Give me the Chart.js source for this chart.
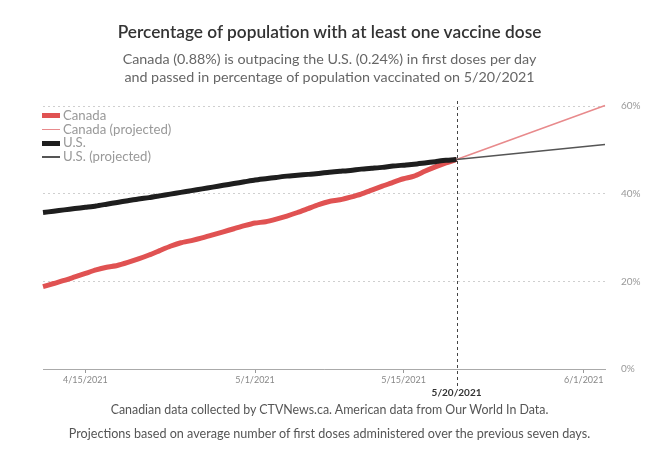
<!DOCTYPE html>
<html>
<head>
<meta charset="utf-8">
<script src="https://cdn.jsdelivr.net/npm/chart.js@4.4.0/dist/chart.umd.min.js"></script>
<style>
  html, body { margin: 0; padding: 0; background: #fff; }
  #wrap { position: relative; width: 659px; height: 450px; font-family: Lato, "Open Sans", sans-serif; }
  #wrap canvas { position: absolute; left: 0; top: 0; }
  .txt { position: absolute; left: 0; width: 659px; text-align: center; white-space: nowrap; }
  #title { top: 21px; font-size: 17.3px; font-weight: 600; color: #333; }
  #sub { top: 50px; font-size: 14.3px; line-height: 18px; color: #666; }
  #foot1 { top: 402px; font-size: 12.4px; color: #555; }
  #foot2 { top: 426px; font-size: 12.6px; color: #555; }
  #legend { position: absolute; left: 42px; top: 109px; font-size: 13.2px; color: #999; }
  #legend div { height: 13.7px; line-height: 13.7px; display: flex; align-items: center; }
  #legend span.sw { display: inline-block; width: 18px; margin-right: 3px; }
</style>
</head>
<body>
<div id="wrap">
  <canvas id="chart" width="659" height="450"></canvas>
  <div class="txt" id="title">Percentage of population with at least one vaccine dose</div>
  <div class="txt" id="sub">Canada (0.88%) is outpacing the U.S. (0.24%) in first doses per day<br>and passed in percentage of population vaccinated on 5/20/2021</div>
  <div class="txt" id="foot1">Canadian data collected by CTVNews.ca. American data from Our World In Data.</div>
  <div class="txt" id="foot2">Projections based on average number of first doses administered over the previous seven days.</div>
  <div id="legend"></div>
</div>
<script>
// daily data, 4/11/2021 - 5/20/2021 (% with at least one dose)
const dates = [
  "4/11", "4/12", "4/13", "4/14", "4/15", "4/16", "4/17", "4/18", "4/19", "4/20",
  "4/21", "4/22", "4/23", "4/24", "4/25", "4/26", "4/27", "4/28", "4/29", "4/30",
  "5/1", "5/2", "5/3", "5/4", "5/5", "5/6", "5/7", "5/8", "5/9", "5/10",
  "5/11", "5/12", "5/13", "5/14", "5/15", "5/16", "5/17", "5/18", "5/19", "5/20"
];
const canada = [
  18.8, 19.5, 20.2, 21.0, 21.8, 22.6, 23.2, 23.6, 24.3, 25.1,
  26.0, 27.0, 28.0, 28.8, 29.3, 29.9, 30.6, 31.3, 32.0, 32.7,
  33.3, 33.6, 34.2, 34.9, 35.7, 36.6, 37.5, 38.2, 38.6, 39.2,
  39.9, 40.8, 41.7, 42.6, 43.4, 44.0, 45.1, 46.1, 47.0, 47.8
];
const us = [
  35.7, 36.0, 36.3, 36.6, 36.9, 37.2, 37.6, 38.0, 38.4, 38.8,
  39.1, 39.5, 39.9, 40.3, 40.7, 41.1, 41.5, 41.9, 42.3, 42.7,
  43.1, 43.4, 43.7, 44.0, 44.2, 44.4, 44.6, 44.9, 45.1, 45.3,
  45.6, 45.8, 46.0, 46.3, 46.5, 46.7, 47.0, 47.3, 47.6, 47.8
];
// projections
const projDates = ["5/20", "6/3"];
const canadaProj = [47.8, 60.1];
const usProj = [47.8, 51.2];

const tickDates = ["4/15", "5/1", "5/15", "5/20", "6/1"];
const crossDate = "5/20";
const yTicks = [0, 20, 40, 60];

const RED = "#e05252", RED_LIGHT = "#e88a8c", BLACK = "#1e1e1e", GREY = "#555";

function dayOf(md) {
  const [m, d] = md.split("/").map(Number);
  return (Date.UTC(2021, m - 1, d) - Date.UTC(2021, 3, 11)) / 864e5;
}
const pts = (ds, vals) => ds.map((d, i) => ({ x: dayOf(d), y: vals[i] }));
const crossDay = dayOf(crossDate);

// legend (html)
const legendItems = [
  { label: "Canada", color: RED, h: 5 },
  { label: "Canada (projected)", color: RED_LIGHT, h: 1.5 },
  { label: "U.S.", color: BLACK, h: 5 },
  { label: "U.S. (projected)", color: GREY, h: 1.5 },
];
document.getElementById("legend").innerHTML = legendItems.map(it =>
  `<div><span class="sw" style="height:${it.h}px;background:${it.color}"></span>${it.label}</div>`
).join("");

const crossLine = {
  id: "crossLine",
  afterDatasetsDraw(chart) {
    const x = Math.round(chart.scales.x.getPixelForValue(crossDay)) + 0.5;
    const ctx = chart.ctx;
    ctx.save();
    ctx.strokeStyle = "#444";
    ctx.lineWidth = 1;
    ctx.setLineDash([3, 3]);
    ctx.beginPath();
    ctx.moveTo(x, 101);
    ctx.lineTo(x, 387);
    ctx.stroke();
    ctx.restore();
  }
};

new Chart(document.getElementById("chart"), {
  type: "line",
  data: {
    datasets: [
      { label: "U.S.", data: pts(dates, us), borderColor: BLACK, borderWidth: 5, order: 0 },
      { label: "Canada", data: pts(dates, canada), borderColor: RED, borderWidth: 5, order: 1 },
      { label: "U.S. (projected)", data: pts(projDates, usProj), borderColor: GREY, borderWidth: 1.5, order: 2 },
      { label: "Canada (projected)", data: pts(projDates, canadaProj), borderColor: RED_LIGHT, borderWidth: 1.5, order: 3 },
    ]
  },
  options: {
    responsive: false,
    animation: false,
    layout: { padding: { left: 43, top: 106, right: 0, bottom: 0 } },
    elements: {
      point: { radius: 0 },
      line: { tension: 0.2, borderCapStyle: "butt", borderJoinStyle: "round" }
    },
    datasets: { line: { clip: false } },
    plugins: { legend: { display: false }, tooltip: { enabled: false } },
    scales: {
      x: {
        type: "linear",
        min: 0,
        max: 53,
        afterBuildTicks: s => { s.ticks = tickDates.map(d => ({ value: dayOf(d) })); },
        afterFit: s => { s.height = 81; },
        grid: {
          drawOnChartArea: false,
          drawTicks: true,
          tickLength: 4,
          color: c => (c.tick && c.tick.value === crossDay) ? "rgba(0,0,0,0)" : "#999"
        },
        border: { display: true, color: "#aaa", width: 1 },
        ticks: {
          autoSkip: false,
          maxRotation: 0,
          padding: 2,
          callback: v => {
            const md = tickDates.find(d => dayOf(d) === v);
            if (!md) return "";
            return md === crossDate ? ["", md + "/2021"] : md + "/2021";
          },
          font: c => (c.tick && c.tick.value === crossDay)
            ? { family: "Lato, sans-serif", size: 10, weight: "bold" }
            : { family: "Lato, sans-serif", size: 9 },
          color: c => (c.tick && c.tick.value === crossDay) ? "#333" : "#888"
        }
      },
      y: {
        position: "right",
        min: 0,
        max: 60,
        afterBuildTicks: s => { s.ticks = yTicks.map(v => ({ value: v })); },
        afterFit: s => { s.width = 54; },
        grid: { color: "#cfcfcf", drawTicks: false, lineWidth: 1 },
        border: { display: false, dash: [2, 3] },
        ticks: {
          padding: 16,
          callback: v => v + "%",
          font: { family: "Lato, sans-serif", size: 10 },
          color: "#999"
        }
      }
    }
  },
  plugins: [crossLine]
});
</script>
</body>
</html>
